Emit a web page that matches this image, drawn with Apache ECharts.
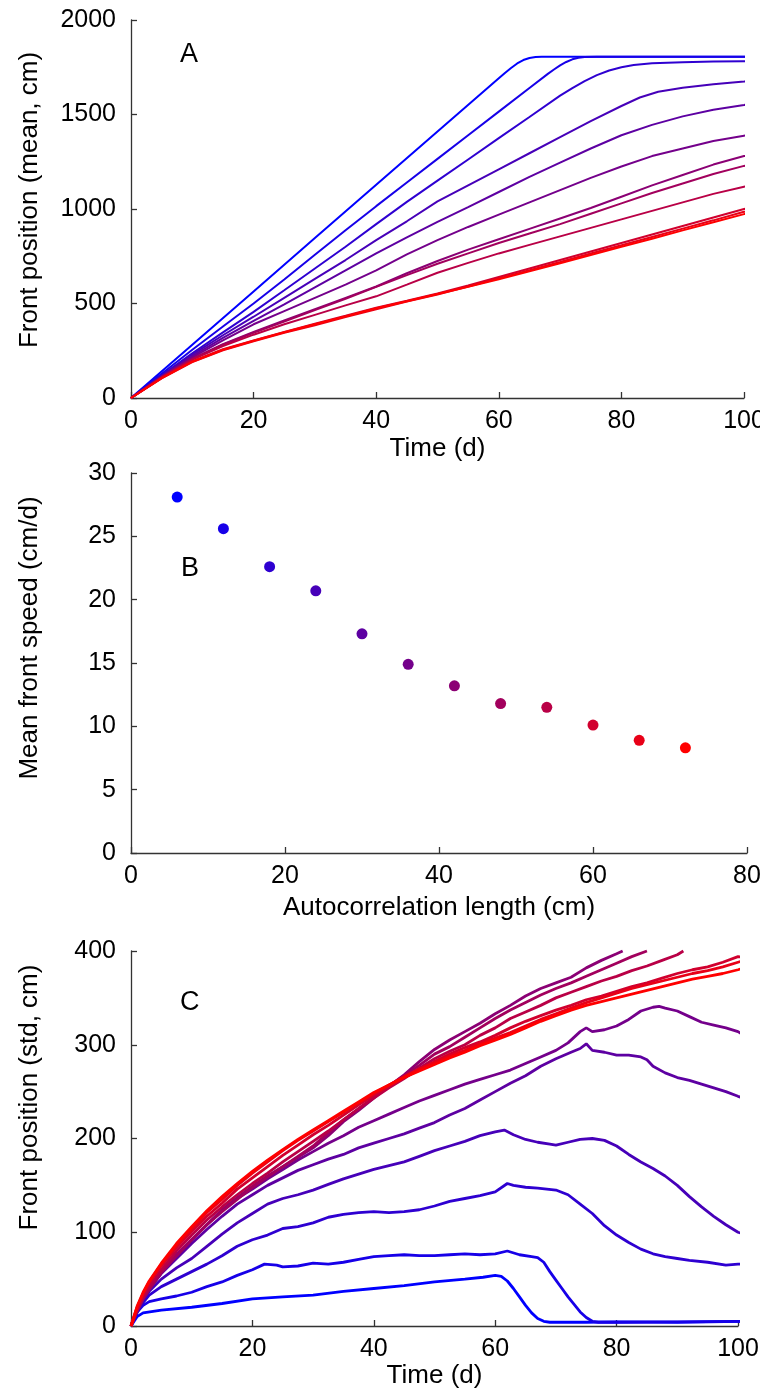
<!DOCTYPE html>
<html><head><meta charset="utf-8">
<script src="https://cdn.jsdelivr.net/npm/echarts@6/dist/echarts.min.js"></script>
<style>html,body{margin:0;padding:0;background:#fff}#c{width:760px;height:1391px}</style>
</head><body><div id="c"></div>
<script>
// ---------- Panel A: mean front position (cm) vs time (d), 12 autocorrelation lengths ----------
const A1 = [[0,0],[10,282],[20,564],[30,846],[40,1128],[50,1410],[60,1692],[61,1720],[62,1746],[63,1770],[64,1788],[65,1799],[66,1804],[67,1806],[80,1806],[101,1806]];
const A2 = [[0,0],[5,128],[10,255],[15,378],[20,500],[25,627],[30,758],[35,888],[40,1015],[45,1140],[50,1265],[55,1390],[60,1515],[65,1640],[68,1715],[69,1738],[70,1760],[71,1778],[72,1792],[73,1800],[74,1804],[76,1806],[101,1806]];
const A3 = [[0,0],[5,120],[10,237],[15,347],[20,456],[25,570],[30,685],[35,800],[40,920],[45,1038],[50,1150],[55,1262],[60,1375],[65,1487],[70,1600],[72,1640],[74,1677],[76,1708],[78,1733],[80,1750],[82,1762],[85,1771],[90,1776],[95,1780],[100,1782],[101,1782]];
const A4 = [[0,0],[5,118],[10,230],[15,332],[20,430],[25,530],[30,630],[35,730],[40,835],[45,935],[50,1040],[55,1125],[60,1210],[65,1295],[70,1380],[75,1465],[80,1545],[83,1590],[86,1620],[90,1642],[95,1660],[100,1674],[101,1677]];
const A5 = [[0,0],[5,115],[10,222],[15,318],[20,408],[25,495],[30,585],[35,675],[40,765],[45,850],[50,932],[55,1010],[60,1090],[65,1170],[70,1245],[75,1320],[80,1390],[85,1445],[90,1490],[95,1525],[100,1550],[101,1556]];
const A6 = [[0,0],[5,113],[10,215],[15,305],[20,390],[25,460],[30,530],[35,600],[40,675],[45,760],[50,835],[55,905],[60,970],[65,1035],[70,1100],[75,1165],[80,1225],[85,1280],[90,1320],[95,1360],[100,1388],[101,1392]];
const A7 = [[0,0],[5,110],[10,208],[15,285],[20,350],[25,410],[30,470],[35,530],[40,590],[45,660],[50,725],[55,785],[60,840],[65,895],[70,950],[75,1005],[80,1065],[85,1125],[90,1180],[95,1235],[100,1280],[101,1286]];
const A8 = [[0,0],[5,110],[10,206],[15,282],[20,345],[25,405],[30,465],[35,525],[40,588],[45,650],[50,710],[55,765],[60,820],[65,870],[70,920],[75,975],[80,1030],[85,1085],[90,1135],[95,1185],[100,1228],[101,1233]];
const A9 = [[0,0],[5,108],[10,203],[15,275],[20,335],[25,390],[30,440],[35,490],[40,538],[45,600],[50,663],[55,715],[60,765],[65,810],[70,855],[75,900],[80,945],[85,990],[90,1035],[95,1080],[100,1118],[101,1122]];
const A10 = [[0,0],[5,106],[10,195],[15,258],[20,305],[25,350],[30,393],[35,435],[40,478],[45,515],[50,553],[55,595],[60,640],[65,685],[70,730],[75,775],[80,820],[85,865],[90,910],[95,955],[100,1000],[101,1004]];
const A11 = [[0,0],[5,104],[10,190],[15,252],[20,300],[25,345],[30,385],[35,428],[40,470],[45,510],[50,548],[55,590],[60,633],[65,676],[70,720],[75,765],[80,808],[85,852],[90,896],[95,940],[100,985],[101,990]];
const A12 = [[0,0],[5,105],[10,192],[15,255],[20,303],[25,348],[30,390],[35,432],[40,475],[45,512],[50,550],[55,588],[60,628],[65,670],[70,713],[75,757],[80,800],[85,843],[90,887],[95,930],[100,973],[101,977]];

// ---------- Panel B: mean front speed vs autocorrelation length ----------
const autocorrLength = [6, 12, 18, 24, 30, 36, 42, 48, 54, 60, 66, 72];
const meanSpeed = [28.1, 25.6, 22.6, 20.7, 17.3, 14.9, 13.2, 11.8, 11.5, 10.1, 8.9, 8.3];

// ---------- Panel C: std of front position (cm) vs time (d) ----------
const C1 = [[0,0],[1,10],[2,14],[5,17],[10,20],[15,24],[20,29],[25,31],[30,33],[35,37],[40,40],[45,43],[50,47],[55,50],[58,52],[60,54],[61,53],[62,48],[63,40],[64,31],[65,22],[66,14],[67,8],[68,5],[69,4],[75,4],[80,4.5],[90,4],[101,5]];
const C2 = [[0,0],[1,15],[2,22],[3,26],[5,29],[7.5,32],[10,36],[12.5,42],[15,47],[17.5,54],[20,60],[22,66],[24,65],[25,63],[27.5,64],[30,67],[32.5,66],[35,68],[37.5,71],[40,74],[42.5,75],[45,76],[47.5,75],[50,75],[52.5,76],[55,77],[57.5,76],[60,77],[62,80],[64,76],[66,74],[67,73],[68,68],[69,58],[70,49],[71,40],[72,31],[73,23],[74,15],[75,9],[76,5],[77,4],[80,4],[90,4.5],[101,5]];
const C3 = [[0,0],[1,14],[2,25],[3,33],[5,42],[7.5,50],[10,58],[12.5,66],[15,75],[17.5,85],[20,92],[22.5,97],[25,104],[27.5,106],[30,110],[32.5,116],[35,119],[37.5,121],[40,122],[42.5,121],[45,122],[47.5,124],[50,128],[52.5,133],[55,136],[57.5,139],[60,143],[62,152],[63,150],[65,148],[67,147],[70,145],[72,140],[74,130],[76,120],[78,107],[80,97],[82,89],[84,82],[86,77],[88,74],[90,72],[92,70],[95,68],[98,65],[100,66],[101,66]];
const C4 = [[0,0],[1,16],[2,28],[3,37],[5,50],[7.5,62],[10,72],[12.5,85],[15,98],[17.5,110],[20,120],[22.5,130],[25,136],[27.5,140],[30,145],[32.5,151],[35,157],[37.5,162],[40,167],[42.5,171],[45,175],[47.5,181],[50,187],[52.5,192],[55,197],[57.5,203],[60,207],[61.5,209],[63,204],[65,199],[67,196],[69,194],[70,193],[72,196],[74,199],[76,200],[78,198],[80,192],[82,183],[84,175],[86,168],[88,160],[90,150],[92,138],[94,127],[96,117],[98,108],[100,100],[101,98]];
const C5 = [[0,0],[1,17],[2,30],[3,40],[5,56],[7.5,72],[10,88],[12.5,103],[15,117],[17.5,130],[20,140],[22.5,150],[25,158],[27.5,166],[30,172],[32.5,178],[35,183],[37.5,190],[40,195],[42.5,200],[45,205],[47.5,211],[50,217],[52.5,225],[55,232],[57.5,241],[60,250],[62.5,259],[65,267],[67.5,277],[70,285],[72.5,292],[74,296],[75,301],[76,294],[78,292],[80,289],[82,289],[84,287],[85,284],[86,277],[88,270],[90,265],[92,262],[94,258],[96,254],[98,250],[100,245],[101,243]];
const C6 = [[0,0],[1,18],[2,31],[3,42],[5,58],[7.5,76],[10,92],[12.5,108],[15,123],[17.5,136],[20,146],[22.5,157],[25,167],[27.5,177],[30,186],[32.5,195],[35,203],[37.5,212],[40,219],[42.5,226],[45,233],[47.5,240],[50,246],[52.5,252],[55,258],[57.5,263],[60,268],[62.5,273],[65,280],[67.5,287],[70,294],[72,302],[74,314],[75,318],[76,314],[78,316],[80,320],[82,327],[84,336],[86,340],[87,341],[88,339],[90,336],[92,330],[94,324],[96,321],[98,318],[100,314],[101,310]];
const C7 = [[0,0],[1,16],[2,29],[3,39],[5,57],[7.5,75],[10,92],[12.5,108],[15,124],[17.5,137],[20,149],[22.5,160],[25,170],[27.5,180],[30,190],[32.5,203],[35,218],[37.5,230],[40,243],[42.5,256],[45,268],[47.5,282],[50,295],[52.5,305],[55,314],[57.5,323],[60,333],[62.5,342],[65,352],[67.5,360],[70,366],[72.5,372],[75,382],[77.5,390],[80,397],[81,400]];
const C8 = [[0,0],[1,16],[2,29],[3,39],[5,57],[7.5,75],[10,92],[12.5,108],[15,122],[17.5,135],[20,148],[22.5,159],[25,170],[27.5,181],[30,192],[32.5,206],[35,220],[37.5,232],[40,244],[42.5,256],[45,267],[47.5,278],[50,290],[52.5,298],[55,308],[57.5,318],[60,328],[62.5,337],[65,345],[67.5,353],[70,360],[72.5,366],[75,373],[77.5,380],[80,387],[82.5,394],[85,400]];
const C9 = [[0,0],[1,17],[2,31],[3,42],[5,60],[7.5,80],[10,97],[12.5,113],[15,127],[17.5,140],[20,152],[22.5,163],[25,175],[27.5,186],[30,197],[32.5,208],[35,220],[37.5,232],[40,243],[42.5,254],[45,264],[47.5,275],[50,285],[52.5,293],[55,300],[57.5,310],[60,318],[62.5,328],[65,335],[67.5,342],[70,350],[72.5,356],[75,362],[77.5,368],[80,373],[82.5,379],[85,384],[87.5,390],[90,396],[91,400]];
const C10 = [[0,0],[1,19],[2,34],[3,46],[5,64],[7.5,84],[10,101],[12.5,117],[15,131],[17.5,146],[20,158],[22.5,170],[25,182],[27.5,193],[30,204],[32.5,214],[35,225],[37.5,236],[40,246],[42.5,256],[45,265],[47.5,273],[50,282],[52.5,290],[55,297],[57.5,303],[60,310],[62.5,318],[65,325],[67.5,331],[70,337],[72.5,342],[75,348],[77.5,352],[80,357],[82.5,362],[85,366],[87.5,371],[90,376],[92.5,380],[95,383],[97.5,388],[100,394],[101,393]];
const C11 = [[0,0],[1,20],[2,35],[3,47],[5,66],[7.5,86],[10,104],[12.5,121],[15,135],[17.5,150],[20,163],[22.5,175],[25,187],[27.5,198],[30,208],[32.5,218],[35,228],[37.5,238],[40,248],[42.5,257],[45,266],[47.5,274],[50,281],[52.5,288],[55,294],[57.5,301],[60,307],[62.5,313],[65,320],[67.5,327],[70,333],[72.5,339],[75,345],[77.5,350],[80,355],[82.5,360],[85,364],[87.5,368],[90,372],[92.5,376],[95,379],[97.5,383],[100,388],[101,390]];
const C12 = [[0,0],[1,21],[2,36],[3,48],[5,67],[7.5,88],[10,106],[12.5,123],[15,138],[17.5,152],[20,165],[22.5,177],[25,188],[27.5,199],[30,209],[32.5,219],[35,229],[37.5,239],[40,249],[42.5,257],[45,265],[47.5,272],[50,279],[52.5,286],[55,292],[57.5,299],[60,305],[62.5,311],[65,318],[67.5,325],[70,331],[72.5,337],[75,342],[77.5,346],[80,350],[82.5,354],[85,358],[87.5,362],[90,366],[92.5,370],[95,373],[97.5,376],[100,380],[101,382]];

const meanSeries = [A1, A2, A3, A4, A5, A6, A7, A8, A9, A10, A11, A12];
const stdSeries = [C1, C2, C3, C4, C5, C6, C7, C8, C9, C10, C11, C12];

// colours, blue -> red
const colors = ['#0000ff','#1700e8','#2e00d1','#4600b9','#5d00a2','#74008b','#8b0074','#a2005d','#b90046','#d1002e','#e80017','#ff0000'];

const FONT = 'Liberation Sans, Helvetica, Arial, sans-serif';
const AX = '#333';
const plain = v => String(v);

function xAxisDef(grid, max, name, gap) {
  return {
    type: 'value', gridIndex: grid, min: 0, max: max, interval: 20,
    name: name, nameLocation: 'middle', nameGap: gap,
    nameTextStyle: { color: '#000', fontSize: 26, fontFamily: FONT },
    axisLine: { show: true, onZero: false, lineStyle: { color: AX, width: 1.3 } },
    axisTick: { show: true, inside: true, length: 6, lineStyle: { color: AX, width: 1.3 } },
    axisLabel: { color: '#000', fontSize: 25, fontFamily: FONT, margin: 11, formatter: plain },
    splitLine: { show: false }
  };
}
function yAxisDef(grid, max, interval, name, gap, shift) {
  return {
    type: 'value', gridIndex: grid, min: 0, max: max, interval: interval,
    name: name, nameLocation: 'middle', nameGap: gap, nameRotate: 90,
    nameTextStyle: { color: '#000', fontSize: 26, fontFamily: FONT, padding: [0, 0, 0, shift] },
    axisLine: { show: true, onZero: false, lineStyle: { color: AX, width: 1.3 } },
    axisTick: { show: true, inside: true, length: 6, lineStyle: { color: AX, width: 1.3 } },
    axisLabel: { color: '#000', fontSize: 25, fontFamily: FONT, margin: 15, formatter: plain },
    splitLine: { show: false }
  };
}

const series = [];
meanSeries.forEach((d, i) => series.push({
  type: 'line', xAxisIndex: 0, yAxisIndex: 0, data: d, showSymbol: false, clip: false,
  lineStyle: { color: colors[i], width: 2 }, itemStyle: { color: colors[i] }
}));
series.push({
  type: 'scatter', xAxisIndex: 1, yAxisIndex: 1, symbolSize: 11,
  data: autocorrLength.map((x, i) => ({ value: [x, meanSpeed[i]], itemStyle: { color: colors[i], opacity: 1 } }))
});
stdSeries.forEach((d, i) => series.push({
  type: 'line', xAxisIndex: 2, yAxisIndex: 2, data: d, showSymbol: false, clip: false,
  lineStyle: { color: colors[i], width: 2.8 }, itemStyle: { color: colors[i] }
}));

const option = {
  animation: false,
  backgroundColor: '#fff',
  textStyle: { fontFamily: FONT },
  title: [
    { text: 'A', left: 175, top: 36, textStyle: { fontSize: 27, fontWeight: 'normal', color: '#000', fontFamily: FONT } },
    { text: 'B', left: 176, top: 550, textStyle: { fontSize: 27, fontWeight: 'normal', color: '#000', fontFamily: FONT } },
    { text: 'C', left: 175, top: 984, textStyle: { fontSize: 27, fontWeight: 'normal', color: '#000', fontFamily: FONT } }
  ],
  grid: [
    { left: 131, top: 20, width: 613, height: 378, outerBoundsMode: 'none', containLabel: false },
    { left: 131, top: 473, width: 616, height: 380, outerBoundsMode: 'none', containLabel: false },
    { left: 131, top: 951, width: 607, height: 375, outerBoundsMode: 'none', containLabel: false }
  ],
  xAxis: [
    xAxisDef(0, 100, 'Time (d)', 38),
    xAxisDef(1, 80, 'Autocorrelation length (cm)', 42),
    xAxisDef(2, 100, 'Time (d)', 37)
  ],
  yAxis: [
    yAxisDef(0, 2000, 500, 'Front position (mean, cm)', 88, 18),
    yAxisDef(1, 30, 5, 'Mean front speed (cm/d)', 88, 50),
    yAxisDef(2, 400, 100, 'Front position (std, cm)', 88, 82)
  ],
  series: series
};

const chart = echarts.init(document.getElementById('c'), null, { renderer: 'canvas' });
chart.setOption(option);
</script></body></html>
